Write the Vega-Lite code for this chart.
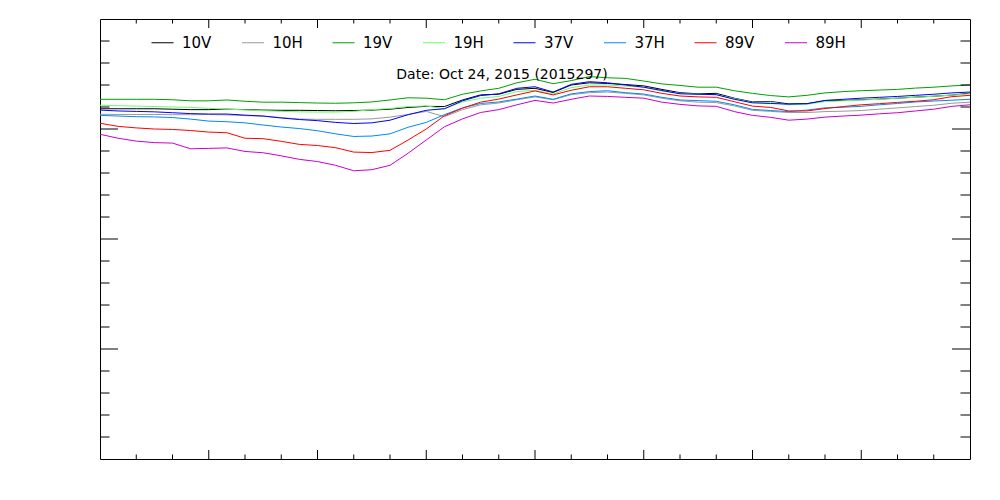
{
 "$schema": "https://vega.github.io/schema/vega-lite/v6.json",
 "width": 870,
 "height": 440,
 "autosize": {"type": "none"},
 "padding": {"left": 100, "top": 19, "right": 30, "bottom": 41},
 "background": "white",
 "title": {"text": "Date: Oct 24, 2015 (2015297)", "orient": "top", "anchor": "middle", "offset": -77, "dx": -33, "baseline": "bottom", "font": "DejaVu Sans", "fontSize": 14, "fontWeight": "normal", "color": "black"},
 "config": {
  "view": {"stroke": "black", "strokeWidth": 1},
  "axis": {"domainColor": "black", "labelColor": "black", "labelFont": "DejaVu Sans", "labelFontSize": 16, "titleFont": "DejaVu Sans", "titleFontSize": 17, "titleFontWeight": "normal", "titleColor": "black", "labelFlush": false, "labelOverlap": false, "grid": false}
 },
 "datasets": {
 "yMajor": [{"tb":150},{"tb":200},{"tb":250}],
 "yMinor": [{"tb":110},{"tb":120},{"tb":130},{"tb":140},{"tb":160},{"tb":170},{"tb":180},{"tb":190},{"tb":210},{"tb":220},{"tb":230},{"tb":240},{"tb":260},{"tb":270},{"tb":280},{"tb":290}],
 "xMajor": [{"hour":3},{"hour":6},{"hour":9},{"hour":12},{"hour":15},{"hour":18},{"hour":21}],
 "xMinor": [{"hour":1},{"hour":2},{"hour":4},{"hour":5},{"hour":7},{"hour":8},{"hour":10},{"hour":11},{"hour":13},{"hour":14},{"hour":16},{"hour":17},{"hour":19},{"hour":20},{"hour":22},{"hour":23}],
 "bt": [
{"hour":0,"channel":"10V","tb":259.2},{"hour":0.5,"channel":"10V","tb":259.2},{"hour":1,"channel":"10V","tb":259.2},{"hour":1.5,"channel":"10V","tb":259.2},{"hour":2,"channel":"10V","tb":259},{"hour":2.5,"channel":"10V","tb":258.8},{"hour":3,"channel":"10V","tb":258.8},{"hour":3.5,"channel":"10V","tb":259},{"hour":4,"channel":"10V","tb":258.8},{"hour":4.5,"channel":"10V","tb":258.6},{"hour":5,"channel":"10V","tb":258.5},{"hour":5.5,"channel":"10V","tb":258.5},{"hour":6,"channel":"10V","tb":258.4},{"hour":6.5,"channel":"10V","tb":258.3},{"hour":7,"channel":"10V","tb":258.4},{"hour":7.5,"channel":"10V","tb":258.6},{"hour":8,"channel":"10V","tb":259},{"hour":8.5,"channel":"10V","tb":259.8},{"hour":9,"channel":"10V","tb":260.3},{"hour":9.5,"channel":"10V","tb":260.2},{"hour":10,"channel":"10V","tb":263.2},{"hour":10.5,"channel":"10V","tb":265.5},{"hour":11,"channel":"10V","tb":265.8},{"hour":11.5,"channel":"10V","tb":268},{"hour":12,"channel":"10V","tb":268.5},{"hour":12.5,"channel":"10V","tb":266.6},{"hour":13,"channel":"10V","tb":270},{"hour":13.5,"channel":"10V","tb":271},{"hour":14,"channel":"10V","tb":270.7},{"hour":14.5,"channel":"10V","tb":270.2},{"hour":15,"channel":"10V","tb":269.6},{"hour":15.5,"channel":"10V","tb":268},{"hour":16,"channel":"10V","tb":266.5},{"hour":16.5,"channel":"10V","tb":266},{"hour":17,"channel":"10V","tb":266.2},{"hour":17.5,"channel":"10V","tb":264},{"hour":18,"channel":"10V","tb":262.3},{"hour":18.5,"channel":"10V","tb":262.5},{"hour":19,"channel":"10V","tb":261.4},{"hour":19.5,"channel":"10V","tb":261.5},{"hour":20,"channel":"10V","tb":262.8},{"hour":20.5,"channel":"10V","tb":263},{"hour":21,"channel":"10V","tb":263.3},{"hour":21.5,"channel":"10V","tb":263.6},{"hour":22,"channel":"10V","tb":264},{"hour":22.5,"channel":"10V","tb":264.5},{"hour":23,"channel":"10V","tb":264.9},{"hour":23.5,"channel":"10V","tb":265.4},{"hour":24,"channel":"10V","tb":266.3},
{"hour":0,"channel":"10H","tb":256.7},{"hour":0.5,"channel":"10H","tb":256.6},{"hour":1,"channel":"10H","tb":256.6},{"hour":1.5,"channel":"10H","tb":256.6},{"hour":2,"channel":"10H","tb":256.5},{"hour":2.5,"channel":"10H","tb":256.5},{"hour":3,"channel":"10H","tb":256.6},{"hour":3.5,"channel":"10H","tb":256.4},{"hour":4,"channel":"10H","tb":256.1},{"hour":4.5,"channel":"10H","tb":255.8},{"hour":5,"channel":"10H","tb":255.2},{"hour":5.5,"channel":"10H","tb":254.5},{"hour":6,"channel":"10H","tb":254.4},{"hour":6.5,"channel":"10H","tb":254.4},{"hour":7,"channel":"10H","tb":254.4},{"hour":7.5,"channel":"10H","tb":254.6},{"hour":8,"channel":"10H","tb":255.4},{"hour":8.5,"channel":"10H","tb":256.6},{"hour":9,"channel":"10H","tb":258},{"hour":9.5,"channel":"10H","tb":255.6},{"hour":10,"channel":"10H","tb":258.8},{"hour":10.5,"channel":"10H","tb":261},{"hour":11,"channel":"10H","tb":261.8},{"hour":11.5,"channel":"10H","tb":263.3},{"hour":12,"channel":"10H","tb":264.6},{"hour":12.5,"channel":"10H","tb":263.3},{"hour":13,"channel":"10H","tb":265.6},{"hour":13.5,"channel":"10H","tb":266.5},{"hour":14,"channel":"10H","tb":266.8},{"hour":14.5,"channel":"10H","tb":266.2},{"hour":15,"channel":"10H","tb":265.5},{"hour":15.5,"channel":"10H","tb":264},{"hour":16,"channel":"10H","tb":262.8},{"hour":16.5,"channel":"10H","tb":262.2},{"hour":17,"channel":"10H","tb":262},{"hour":17.5,"channel":"10H","tb":260.5},{"hour":18,"channel":"10H","tb":258.5},{"hour":18.5,"channel":"10H","tb":258},{"hour":19,"channel":"10H","tb":257.5},{"hour":19.5,"channel":"10H","tb":257.5},{"hour":20,"channel":"10H","tb":257.9},{"hour":20.5,"channel":"10H","tb":258.1},{"hour":21,"channel":"10H","tb":258.4},{"hour":21.5,"channel":"10H","tb":259},{"hour":22,"channel":"10H","tb":259.6},{"hour":22.5,"channel":"10H","tb":260.2},{"hour":23,"channel":"10H","tb":260.8},{"hour":23.5,"channel":"10H","tb":261.7},{"hour":24,"channel":"10H","tb":262.2},
{"hour":0,"channel":"19V","tb":263.5},{"hour":0.5,"channel":"19V","tb":263.5},{"hour":1,"channel":"19V","tb":263.5},{"hour":1.5,"channel":"19V","tb":263.5},{"hour":2,"channel":"19V","tb":263.3},{"hour":2.5,"channel":"19V","tb":262.8},{"hour":3,"channel":"19V","tb":262.8},{"hour":3.5,"channel":"19V","tb":263.2},{"hour":4,"channel":"19V","tb":262.6},{"hour":4.5,"channel":"19V","tb":262.2},{"hour":5,"channel":"19V","tb":262.2},{"hour":5.5,"channel":"19V","tb":262},{"hour":6,"channel":"19V","tb":261.8},{"hour":6.5,"channel":"19V","tb":261.7},{"hour":7,"channel":"19V","tb":261.9},{"hour":7.5,"channel":"19V","tb":262.3},{"hour":8,"channel":"19V","tb":263.2},{"hour":8.5,"channel":"19V","tb":264.2},{"hour":9,"channel":"19V","tb":264},{"hour":9.5,"channel":"19V","tb":263.3},{"hour":10,"channel":"19V","tb":265.8},{"hour":10.5,"channel":"19V","tb":267.3},{"hour":11,"channel":"19V","tb":268.5},{"hour":11.5,"channel":"19V","tb":271},{"hour":12,"channel":"19V","tb":272.6},{"hour":12.5,"channel":"19V","tb":270.6},{"hour":13,"channel":"19V","tb":272},{"hour":13.5,"channel":"19V","tb":273.8},{"hour":14,"channel":"19V","tb":273.3},{"hour":14.5,"channel":"19V","tb":273},{"hour":15,"channel":"19V","tb":271.8},{"hour":15.5,"channel":"19V","tb":270.5},{"hour":16,"channel":"19V","tb":269.8},{"hour":16.5,"channel":"19V","tb":269},{"hour":17,"channel":"19V","tb":269},{"hour":17.5,"channel":"19V","tb":267.4},{"hour":18,"channel":"19V","tb":266.2},{"hour":18.5,"channel":"19V","tb":265.2},{"hour":19,"channel":"19V","tb":264.6},{"hour":19.5,"channel":"19V","tb":265.3},{"hour":20,"channel":"19V","tb":266.4},{"hour":20.5,"channel":"19V","tb":267},{"hour":21,"channel":"19V","tb":267.4},{"hour":21.5,"channel":"19V","tb":267.7},{"hour":22,"channel":"19V","tb":268},{"hour":22.5,"channel":"19V","tb":268.6},{"hour":23,"channel":"19V","tb":269},{"hour":23.5,"channel":"19V","tb":269.6},{"hour":24,"channel":"19V","tb":270},
{"hour":0,"channel":"19H","tb":260.8},{"hour":0.5,"channel":"19H","tb":260.6},{"hour":1,"channel":"19H","tb":260.4},{"hour":1.5,"channel":"19H","tb":260.2},{"hour":2,"channel":"19H","tb":260},{"hour":2.5,"channel":"19H","tb":259.8},{"hour":3,"channel":"19H","tb":259.4},{"hour":3.5,"channel":"19H","tb":259},{"hour":4,"channel":"19H","tb":258.7},{"hour":4.5,"channel":"19H","tb":258.3},{"hour":5,"channel":"19H","tb":258},{"hour":5.5,"channel":"19H","tb":257.8},{"hour":6,"channel":"19H","tb":257.7},{"hour":6.5,"channel":"19H","tb":257.7},{"hour":7,"channel":"19H","tb":258},{"hour":7.5,"channel":"19H","tb":258.8},{"hour":8,"channel":"19H","tb":259.3},{"hour":8.5,"channel":"19H","tb":260.2},{"hour":9,"channel":"19H","tb":260.5},{"hour":9.5,"channel":"19H","tb":259.2},{"hour":10,"channel":"19H","tb":262.3},{"hour":10.5,"channel":"19H","tb":264},{"hour":11,"channel":"19H","tb":264.8},{"hour":11.5,"channel":"19H","tb":267},{"hour":12,"channel":"19H","tb":267.6},{"hour":12.5,"channel":"19H","tb":265.9},{"hour":13,"channel":"19H","tb":268.8},{"hour":13.5,"channel":"19H","tb":270},{"hour":14,"channel":"19H","tb":270},{"hour":14.5,"channel":"19H","tb":269.5},{"hour":15,"channel":"19H","tb":269},{"hour":15.5,"channel":"19H","tb":267.2},{"hour":16,"channel":"19H","tb":266.2},{"hour":16.5,"channel":"19H","tb":265.8},{"hour":17,"channel":"19H","tb":265.6},{"hour":17.5,"channel":"19H","tb":263.8},{"hour":18,"channel":"19H","tb":262},{"hour":18.5,"channel":"19H","tb":262.2},{"hour":19,"channel":"19H","tb":261},{"hour":19.5,"channel":"19H","tb":261.2},{"hour":20,"channel":"19H","tb":262.5},{"hour":20.5,"channel":"19H","tb":262.8},{"hour":21,"channel":"19H","tb":263.2},{"hour":21.5,"channel":"19H","tb":263.5},{"hour":22,"channel":"19H","tb":264},{"hour":22.5,"channel":"19H","tb":264.4},{"hour":23,"channel":"19H","tb":264.9},{"hour":23.5,"channel":"19H","tb":265.4},{"hour":24,"channel":"19H","tb":266},
{"hour":0,"channel":"37V","tb":258.6},{"hour":0.5,"channel":"37V","tb":258.2},{"hour":1,"channel":"37V","tb":258},{"hour":1.5,"channel":"37V","tb":257.8},{"hour":2,"channel":"37V","tb":257.4},{"hour":2.5,"channel":"37V","tb":257},{"hour":3,"channel":"37V","tb":256.8},{"hour":3.5,"channel":"37V","tb":256.8},{"hour":4,"channel":"37V","tb":256.3},{"hour":4.5,"channel":"37V","tb":255.9},{"hour":5,"channel":"37V","tb":255},{"hour":5.5,"channel":"37V","tb":254.3},{"hour":6,"channel":"37V","tb":253.8},{"hour":6.5,"channel":"37V","tb":253},{"hour":7,"channel":"37V","tb":252.5},{"hour":7.5,"channel":"37V","tb":252.8},{"hour":8,"channel":"37V","tb":254},{"hour":8.5,"channel":"37V","tb":256.5},{"hour":9,"channel":"37V","tb":258.5},{"hour":9.5,"channel":"37V","tb":259.2},{"hour":10,"channel":"37V","tb":262.8},{"hour":10.5,"channel":"37V","tb":265.2},{"hour":11,"channel":"37V","tb":266},{"hour":11.5,"channel":"37V","tb":268.5},{"hour":12,"channel":"37V","tb":269.2},{"hour":12.5,"channel":"37V","tb":266.8},{"hour":13,"channel":"37V","tb":270.3},{"hour":13.5,"channel":"37V","tb":271.5},{"hour":14,"channel":"37V","tb":271},{"hour":14.5,"channel":"37V","tb":270},{"hour":15,"channel":"37V","tb":269},{"hour":15.5,"channel":"37V","tb":267.5},{"hour":16,"channel":"37V","tb":266},{"hour":16.5,"channel":"37V","tb":265.8},{"hour":17,"channel":"37V","tb":265.6},{"hour":17.5,"channel":"37V","tb":263.5},{"hour":18,"channel":"37V","tb":261.9},{"hour":18.5,"channel":"37V","tb":261.6},{"hour":19,"channel":"37V","tb":261.3},{"hour":19.5,"channel":"37V","tb":261.5},{"hour":20,"channel":"37V","tb":263},{"hour":20.5,"channel":"37V","tb":263.5},{"hour":21,"channel":"37V","tb":264},{"hour":21.5,"channel":"37V","tb":264.4},{"hour":22,"channel":"37V","tb":264.8},{"hour":22.5,"channel":"37V","tb":265.3},{"hour":23,"channel":"37V","tb":265.8},{"hour":23.5,"channel":"37V","tb":266.4},{"hour":24,"channel":"37V","tb":266.8},
{"hour":0,"channel":"37H","tb":256.2},{"hour":0.5,"channel":"37H","tb":255.9},{"hour":1,"channel":"37H","tb":255.6},{"hour":1.5,"channel":"37H","tb":255.5},{"hour":2,"channel":"37H","tb":255.2},{"hour":2.5,"channel":"37H","tb":254.5},{"hour":3,"channel":"37H","tb":253.6},{"hour":3.5,"channel":"37H","tb":253.3},{"hour":4,"channel":"37H","tb":252.8},{"hour":4.5,"channel":"37H","tb":251.8},{"hour":5,"channel":"37H","tb":250.9},{"hour":5.5,"channel":"37H","tb":250.2},{"hour":6,"channel":"37H","tb":249.2},{"hour":6.5,"channel":"37H","tb":247.8},{"hour":7,"channel":"37H","tb":246.6},{"hour":7.5,"channel":"37H","tb":246.8},{"hour":8,"channel":"37H","tb":247.8},{"hour":8.5,"channel":"37H","tb":250.8},{"hour":9,"channel":"37H","tb":253},{"hour":9.5,"channel":"37H","tb":256.5},{"hour":10,"channel":"37H","tb":259.6},{"hour":10.5,"channel":"37H","tb":261.6},{"hour":11,"channel":"37H","tb":262.3},{"hour":11.5,"channel":"37H","tb":263.6},{"hour":12,"channel":"37H","tb":265},{"hour":12.5,"channel":"37H","tb":263.5},{"hour":13,"channel":"37H","tb":266},{"hour":13.5,"channel":"37H","tb":267},{"hour":14,"channel":"37H","tb":267.4},{"hour":14.5,"channel":"37H","tb":266.5},{"hour":15,"channel":"37H","tb":265.9},{"hour":15.5,"channel":"37H","tb":264.4},{"hour":16,"channel":"37H","tb":263.2},{"hour":16.5,"channel":"37H","tb":262.9},{"hour":17,"channel":"37H","tb":262.6},{"hour":17.5,"channel":"37H","tb":261},{"hour":18,"channel":"37H","tb":258.9},{"hour":18.5,"channel":"37H","tb":258.4},{"hour":19,"channel":"37H","tb":257.9},{"hour":19.5,"channel":"37H","tb":258.6},{"hour":20,"channel":"37H","tb":259.6},{"hour":20.5,"channel":"37H","tb":259.9},{"hour":21,"channel":"37H","tb":260.3},{"hour":21.5,"channel":"37H","tb":261},{"hour":22,"channel":"37H","tb":261.6},{"hour":22.5,"channel":"37H","tb":262.3},{"hour":23,"channel":"37H","tb":262.7},{"hour":23.5,"channel":"37H","tb":263.1},{"hour":24,"channel":"37H","tb":263.5},
{"hour":0,"channel":"89V","tb":252.6},{"hour":0.5,"channel":"89V","tb":251.2},{"hour":1,"channel":"89V","tb":250.5},{"hour":1.5,"channel":"89V","tb":250},{"hour":2,"channel":"89V","tb":249.8},{"hour":2.5,"channel":"89V","tb":249.3},{"hour":3,"channel":"89V","tb":248.6},{"hour":3.5,"channel":"89V","tb":248.3},{"hour":4,"channel":"89V","tb":245.8},{"hour":4.5,"channel":"89V","tb":245.6},{"hour":5,"channel":"89V","tb":244.4},{"hour":5.5,"channel":"89V","tb":243},{"hour":6,"channel":"89V","tb":242.5},{"hour":6.5,"channel":"89V","tb":241.5},{"hour":7,"channel":"89V","tb":239.5},{"hour":7.5,"channel":"89V","tb":239.3},{"hour":8,"channel":"89V","tb":240.3},{"hour":8.5,"channel":"89V","tb":245},{"hour":9,"channel":"89V","tb":250},{"hour":9.5,"channel":"89V","tb":256},{"hour":10,"channel":"89V","tb":259.5},{"hour":10.5,"channel":"89V","tb":262.2},{"hour":11,"channel":"89V","tb":263.6},{"hour":11.5,"channel":"89V","tb":265.5},{"hour":12,"channel":"89V","tb":267.3},{"hour":12.5,"channel":"89V","tb":265.5},{"hour":13,"channel":"89V","tb":267.6},{"hour":13.5,"channel":"89V","tb":269.2},{"hour":14,"channel":"89V","tb":269.2},{"hour":14.5,"channel":"89V","tb":268.5},{"hour":15,"channel":"89V","tb":267.8},{"hour":15.5,"channel":"89V","tb":266.2},{"hour":16,"channel":"89V","tb":265},{"hour":16.5,"channel":"89V","tb":264.6},{"hour":17,"channel":"89V","tb":264.4},{"hour":17.5,"channel":"89V","tb":262.4},{"hour":18,"channel":"89V","tb":260.4},{"hour":18.5,"channel":"89V","tb":259.8},{"hour":19,"channel":"89V","tb":258.2},{"hour":19.5,"channel":"89V","tb":258.2},{"hour":20,"channel":"89V","tb":259.3},{"hour":20.5,"channel":"89V","tb":260.2},{"hour":21,"channel":"89V","tb":261},{"hour":21.5,"channel":"89V","tb":261.5},{"hour":22,"channel":"89V","tb":262.1},{"hour":22.5,"channel":"89V","tb":262.6},{"hour":23,"channel":"89V","tb":263.3},{"hour":23.5,"channel":"89V","tb":264.7},{"hour":24,"channel":"89V","tb":265.3},
{"hour":0,"channel":"89H","tb":247.6},{"hour":0.5,"channel":"89H","tb":245.8},{"hour":1,"channel":"89H","tb":244.5},{"hour":1.5,"channel":"89H","tb":243.8},{"hour":2,"channel":"89H","tb":243.6},{"hour":2.5,"channel":"89H","tb":241},{"hour":3,"channel":"89H","tb":241.2},{"hour":3.5,"channel":"89H","tb":241.4},{"hour":4,"channel":"89H","tb":239.8},{"hour":4.5,"channel":"89H","tb":239.2},{"hour":5,"channel":"89H","tb":237.8},{"hour":5.5,"channel":"89H","tb":236.2},{"hour":6,"channel":"89H","tb":235.2},{"hour":6.5,"channel":"89H","tb":233.5},{"hour":7,"channel":"89H","tb":231},{"hour":7.5,"channel":"89H","tb":231.5},{"hour":8,"channel":"89H","tb":233.5},{"hour":8.5,"channel":"89H","tb":239},{"hour":9,"channel":"89H","tb":245},{"hour":9.5,"channel":"89H","tb":251},{"hour":10,"channel":"89H","tb":254.6},{"hour":10.5,"channel":"89H","tb":257.5},{"hour":11,"channel":"89H","tb":258.8},{"hour":11.5,"channel":"89H","tb":261},{"hour":12,"channel":"89H","tb":263},{"hour":12.5,"channel":"89H","tb":261.8},{"hour":13,"channel":"89H","tb":263.5},{"hour":13.5,"channel":"89H","tb":265},{"hour":14,"channel":"89H","tb":264.8},{"hour":14.5,"channel":"89H","tb":264.4},{"hour":15,"channel":"89H","tb":264},{"hour":15.5,"channel":"89H","tb":262.2},{"hour":16,"channel":"89H","tb":261.2},{"hour":16.5,"channel":"89H","tb":260.5},{"hour":17,"channel":"89H","tb":260.3},{"hour":17.5,"channel":"89H","tb":257.9},{"hour":18,"channel":"89H","tb":256.2},{"hour":18.5,"channel":"89H","tb":255.3},{"hour":19,"channel":"89H","tb":254},{"hour":19.5,"channel":"89H","tb":254.5},{"hour":20,"channel":"89H","tb":255.4},{"hour":20.5,"channel":"89H","tb":255.9},{"hour":21,"channel":"89H","tb":256.3},{"hour":21.5,"channel":"89H","tb":256.9},{"hour":22,"channel":"89H","tb":257.4},{"hour":22.5,"channel":"89H","tb":258.2},{"hour":23,"channel":"89H","tb":259},{"hour":23.5,"channel":"89H","tb":260.3},{"hour":24,"channel":"89H","tb":261}
 ]},
 "layer": [
  {
   "data": {"name": "bt"},
   "mark": {"type": "line", "strokeWidth": 1},
   "encoding": {
    "x": {"field": "hour", "type": "quantitative", "scale": {"domain": [0, 24], "nice": false, "zero": false},
     "axis": {"orient": "bottom", "values": [0,3,6,9,12,15,18,21,24], "ticks": false,
      "labelPadding": 4, "title": "Local Time (EST), Hour", "titlePadding": -5}},
    "y": {"field": "tb", "type": "quantitative", "scale": {"domain": [100, 300], "nice": false, "zero": false},
     "axis": {"orient": "left", "values": [100,150,200,250,300], "ticks": false,
      "labelPadding": 6, "title": "Brightness Temperature, Deg K", "titlePadding": 10}},
    "color": {"field": "channel", "type": "nominal",
     "scale": {"domain": ["10V","10H","19V","19H","37V","37H","89V","89H"], "range": ["#000000","#999999","#00a000","#66ff66","#0000ff","#0088ff","#ff0000","#cc00cc"]},
     "legend": {"orient": "none", "legendX": 51, "legendY": 12, "direction": "horizontal", "columns": 8, "gridAlign": "all", "symbolType": "stroke", "symbolSize": 484, "symbolStrokeWidth": 1, "labelFont": "DejaVu Sans", "labelFontSize": 15, "labelColor": "black", "labelOffset": 8, "columnPadding": 26.5, "title": null}}
   }
  },
  {
   "data": {"name": "yMajor"},
   "mark": {"type": "rule", "color": "black", "strokeWidth": 1},
   "encoding": {"y": {"field": "tb", "type": "quantitative", "axis": null}, "x": {"datum": 0, "type": "quantitative"}, "x2": {"datum": 0.4966}}
  },
  {
   "data": {"name": "yMinor"},
   "mark": {"type": "rule", "color": "black", "strokeWidth": 1},
   "encoding": {"y": {"field": "tb", "type": "quantitative", "axis": null}, "x": {"datum": 0, "type": "quantitative"}, "x2": {"datum": 0.262}}
  },
  {
   "data": {"name": "yMajor"},
   "mark": {"type": "rule", "color": "black", "strokeWidth": 1},
   "encoding": {"y": {"field": "tb", "type": "quantitative", "axis": null}, "x": {"datum": 23.5034, "type": "quantitative"}, "x2": {"datum": 24}}
  },
  {
   "data": {"name": "yMinor"},
   "mark": {"type": "rule", "color": "black", "strokeWidth": 1},
   "encoding": {"y": {"field": "tb", "type": "quantitative", "axis": null}, "x": {"datum": 23.738, "type": "quantitative"}, "x2": {"datum": 24}}
  },
  {
   "data": {"name": "xMajor"},
   "mark": {"type": "rule", "color": "black", "strokeWidth": 1},
   "encoding": {"x": {"field": "hour", "type": "quantitative", "axis": null}, "y": {"datum": 100, "type": "quantitative"}, "y2": {"datum": 104.09}}
  },
  {
   "data": {"name": "xMinor"},
   "mark": {"type": "rule", "color": "black", "strokeWidth": 1},
   "encoding": {"x": {"field": "hour", "type": "quantitative", "axis": null}, "y": {"datum": 100, "type": "quantitative"}, "y2": {"datum": 102.05}}
  },
  {
   "data": {"name": "xMajor"},
   "mark": {"type": "rule", "color": "black", "strokeWidth": 1},
   "encoding": {"x": {"field": "hour", "type": "quantitative", "axis": null}, "y": {"datum": 295.91, "type": "quantitative"}, "y2": {"datum": 300}}
  },
  {
   "data": {"name": "xMinor"},
   "mark": {"type": "rule", "color": "black", "strokeWidth": 1},
   "encoding": {"x": {"field": "hour", "type": "quantitative", "axis": null}, "y": {"datum": 297.95, "type": "quantitative"}, "y2": {"datum": 300}}
  }
 ]
}
